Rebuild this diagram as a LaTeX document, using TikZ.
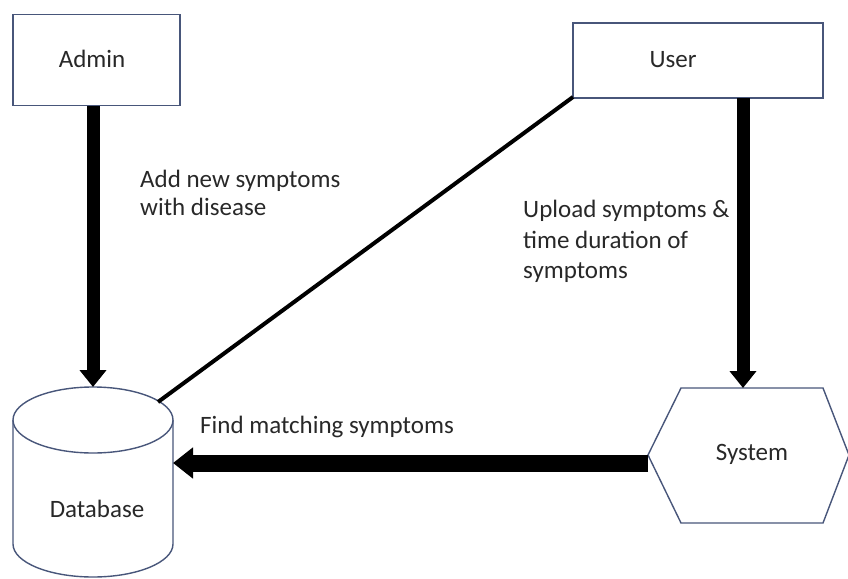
\documentclass[tikz,border=0pt]{standalone}
\usepackage{fontspec}
\setmainfont{Carlito}
\usetikzlibrary{arrows.meta,shapes.geometric}
\definecolor{edge}{RGB}{72,86,122}
\definecolor{ink}{RGB}{40,40,40}
\begin{document}
\begin{tikzpicture}[x=1pt,y=-1pt,
  box/.style={draw=edge,line width=1.4pt,fill=white,inner sep=0pt},
  txt/.style={font=\fontsize{25}{30}\selectfont,text=ink,inner sep=0pt,anchor=base},
  lbl/.style={txt,anchor=base west},
  thick arrow/.style={line width=13pt,-{Triangle[width=26pt,length=17pt]}},
]
\useasboundingbox (0,0) rectangle (848,578);
\node[box,minimum width=167pt,minimum height=91pt] (admin) at (96.5,60) {};
\node[txt] (admintxt) at (92,67) {Admin};
\node[box,minimum width=250pt,minimum height=75pt] (user) at (698,60.5) {};
\node[txt] (usertxt) at (673,67) {User};
% System hexagon
\coordinate (s1) at (648,455);
\coordinate (s2) at (681,388);
\coordinate (s3) at (823,388);
\coordinate (s4) at (849,455);
\coordinate (s5) at (823,523);
\coordinate (s6) at (681,523);
\draw[edge,line width=1.4pt,fill=white] (s1)--(s2)--(s3)--(s4)--(s5)--(s6)--cycle;
\node[txt] (system) at (752,460) {System};
% Database cylinder
\draw[edge,line width=1.4pt,fill=white] (13,420) -- (13,544) arc[start angle=180,end angle=0,x radius=80,y radius=33] -- (173,420);
\draw[edge,line width=1.4pt,fill=white] (93,420) ellipse[x radius=80,y radius=33];
\coordinate (dbtop) at (93,387);
\coordinate (dbright) at (173,463);
\coordinate (dbline) at (158,402);
\node[txt] (db) at (97,517) {Database};
% connectors
\draw[thick arrow] (93,106) -- (dbtop);
\draw[thick arrow] (743,98) -- (743,388);
\draw[line width=17pt,-{Triangle[width=30pt,length=20pt]}] (648,463) -- (dbright);
\draw[line width=4pt] (573,97) -- (dbline);
% labels
\node[lbl] (l1a) at (140,187) {Add new symptoms};
\node[lbl] (l1b) at (140,215) {with disease};
\node[lbl] (l2a) at (523,217) {Upload symptoms \&};
\node[lbl] (l2b) at (523,248) {time duration of};
\node[lbl] (l2c) at (523,278) {symptoms};
\node[lbl] (l3) at (200,433) {Find matching symptoms};
\end{tikzpicture}
\end{document}
